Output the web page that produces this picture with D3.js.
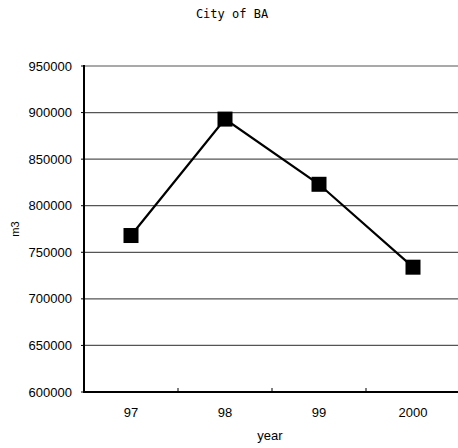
<!DOCTYPE html>
<html>
<head>
<meta charset="utf-8">
<script src="https://cdn.jsdelivr.net/npm/d3@7"></script>
<style>
  body { margin: 0; background: #fff; }
  text { font-family: "Liberation Sans", Arial, sans-serif; }
</style>
</head>
<body>
<svg id="chart" width="458" height="448"></svg>
<script>
const years = ['97', '98', '99', '2000'];
const volumes = [768000, 893000, 823000, 734000];
const yTicks = [600000, 650000, 700000, 750000, 800000, 850000, 900000, 950000];

const svg = d3.select('#chart');
const margin = { top: 66, right: -2, bottom: 56, left: 84 };
const width = 458 - margin.left - margin.right;
const height = 448 - margin.top - margin.bottom;

const g = svg.append('g')
    .attr('transform', `translate(${margin.left},${margin.top})`);

const x = d3.scaleBand().domain(years).range([0, width]);
const y = d3.scaleLinear().domain([600000, 950000]).range([height, 0]);

// Gridlines
g.selectAll('.grid')
    .data(yTicks.slice(1))
    .enter().append('line')
    .attr('x1', 0)
    .attr('x2', width)
    .attr('y1', d => y(d))
    .attr('y2', d => y(d))
    .attr('stroke', '#555')
    .attr('stroke-width', 1.2);

// Y axis labels
g.selectAll('.ylab')
    .data(yTicks)
    .enter().append('text')
    .attr('x', -12)
    .attr('y', d => y(d) + 4.5)
    .attr('text-anchor', 'end')
    .attr('font-size', '13px')
    .text(d => d);

// Y axis small ticks
g.selectAll('.ytick')
    .data(yTicks)
    .enter().append('line')
    .attr('x1', -3)
    .attr('x2', 0)
    .attr('y1', d => y(d))
    .attr('y2', d => y(d))
    .attr('stroke', '#000');

// X ticks at band boundaries (pointing inward)
g.selectAll('.xtick')
    .data(years.slice(1))
    .enter().append('line')
    .attr('x1', d => x(d))
    .attr('x2', d => x(d))
    .attr('y1', height)
    .attr('y2', height - 4)
    .attr('stroke', '#000');

// Axes
g.append('line')
    .attr('x1', 0).attr('x2', 0)
    .attr('y1', -1).attr('y2', height + 1)
    .attr('stroke', '#000').attr('stroke-width', 2);
g.append('line')
    .attr('x1', -1).attr('x2', width)
    .attr('y1', height).attr('y2', height)
    .attr('stroke', '#000').attr('stroke-width', 2);

// X labels
g.selectAll('.xlab')
    .data(years)
    .enter().append('text')
    .attr('x', d => x(d) + x.bandwidth() / 2)
    .attr('y', height + 25)
    .attr('text-anchor', 'middle')
    .attr('font-size', '13px')
    .text(d => d);

// Line
const line = d3.line()
    .x((d, i) => x(years[i]) + x.bandwidth() / 2)
    .y(d => y(d));

g.append('path')
    .datum(volumes)
    .attr('d', line)
    .attr('fill', 'none')
    .attr('stroke', '#000')
    .attr('stroke-width', 2.2);

// Markers
const ms = 15;
g.selectAll('.marker')
    .data(volumes)
    .enter().append('rect')
    .attr('x', (d, i) => x(years[i]) + x.bandwidth() / 2 - ms / 2)
    .attr('y', d => y(d) - ms / 2)
    .attr('width', ms)
    .attr('height', ms)
    .attr('fill', '#000');

// Title (monospace-looking in the original)
svg.append('text')
    .attr('x', 232)
    .attr('y', 17.5)
    .attr('text-anchor', 'middle')
    .attr('font-size', '12px')
    .style('font-family', '"DejaVu Sans Mono", monospace')
    .text('City of BA');

// Axis titles
svg.append('text')
    .attr('x', 270)
    .attr('y', 440)
    .attr('text-anchor', 'middle')
    .attr('font-size', '13px')
    .text('year');

svg.append('text')
    .attr('transform', 'translate(19,229) rotate(-90)')
    .attr('text-anchor', 'middle')
    .attr('font-size', '11px')
    .text('m3');
</script>
</body>
</html>
